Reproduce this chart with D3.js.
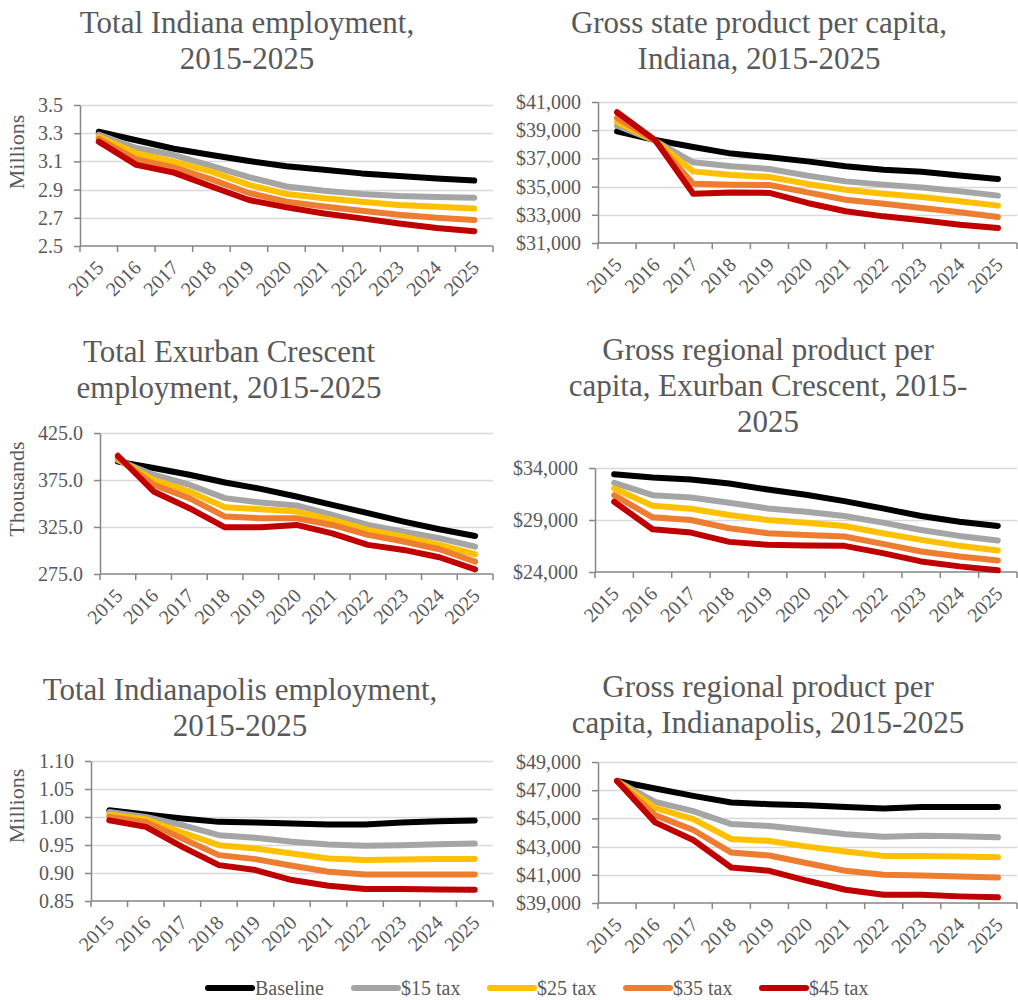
<!DOCTYPE html>
<html>
<head>
<meta charset="utf-8">
<script src="https://cdn.jsdelivr.net/npm/d3@7"></script>
<style>
  html, body { margin: 0; padding: 0; background: #fff; }
  svg { display: block; }
</style>
</head>
<body>
<svg id="chart" width="1018" height="1000"></svg>
<script>
// Years on the category axis
const years = ["2015","2016","2017","2018","2019","2020","2021","2022","2023","2024","2025"];

// Scenarios and their colours
const scenarios = ["Baseline", "$15 tax", "$25 tax", "$35 tax", "$45 tax"];
const scenarioColors = ["#000000", "#a5a5a5", "#ffc000", "#ed7d31", "#c00000"];

// Total Indiana employment (millions), one row per scenario
const indianaEmployment = [
  [3.31, 3.25, 3.19, 3.145, 3.103, 3.065, 3.04, 3.015, 2.996, 2.978, 2.964],
  [3.29, 3.195, 3.145, 3.068, 2.988, 2.922, 2.892, 2.869, 2.855, 2.848, 2.843],
  [3.275, 3.158, 3.098, 3.027, 2.933, 2.869, 2.838, 2.814, 2.79, 2.778, 2.766],
  [3.26, 3.115, 3.058, 2.973, 2.876, 2.814, 2.78, 2.75, 2.722, 2.7, 2.684],
  [3.24, 3.075, 3.02, 2.922, 2.826, 2.774, 2.73, 2.696, 2.66, 2.628, 2.605]
];
const indianaEmploymentTicks = [2.5, 2.7, 2.9, 3.1, 3.3, 3.5];

// Gross state product per capita, Indiana (dollars)
const indianaGspPerCapita = [
  [38920, 38300, 37810, 37340, 37080, 36790, 36440, 36200, 36060, 35780, 35540],
  [39320, 38250, 36720, 36440, 36250, 35780, 35370, 35140, 34930, 34670, 34360],
  [39580, 38250, 36080, 35820, 35680, 35190, 34780, 34500, 34260, 33960, 33650],
  [39870, 38250, 35210, 35140, 35110, 34590, 34070, 33790, 33480, 33180, 32840],
  [40270, 38300, 34500, 34590, 34550, 33840, 33250, 32890, 32610, 32300, 32060]
];
const indianaGspTicks = [31000, 33000, 35000, 37000, 39000, 41000];

// Total Exurban Crescent employment (thousands)
const exurbanEmployment = [
  [394.5, 387.7, 380.6, 372.4, 365.6, 357.5, 348.6, 339.7, 330.8, 322.6, 315.5],
  [396.0, 380.6, 370.0, 355.7, 351.0, 347.9, 337.9, 327.2, 320.1, 313.0, 304.1],
  [397.0, 375.2, 362.8, 346.0, 343.9, 341.5, 332.6, 321.9, 314.8, 305.9, 296.0],
  [398.5, 370.0, 355.7, 336.1, 334.3, 334.3, 327.2, 316.6, 309.5, 301.3, 288.1],
  [400.8, 362.8, 345.0, 324.7, 324.7, 327.2, 318.3, 306.0, 300.6, 292.8, 280.0]
];
const exurbanEmploymentTicks = [275, 325, 375, 425];

// Gross regional product per capita, Exurban Crescent (dollars)
const exurbanGrpPerCapita = [
  [33395, 33076, 32885, 32503, 31930, 31420, 30815, 30114, 29382, 28840, 28426],
  [32567, 31388, 31165, 30656, 30114, 29796, 29382, 28745, 28044, 27471, 27025],
  [32025, 30369, 30083, 29477, 29000, 28745, 28426, 27726, 27089, 26515, 26069],
  [31388, 29254, 29000, 28203, 27726, 27567, 27407, 26706, 25974, 25496, 25114],
  [30751, 28108, 27789, 26897, 26611, 26547, 26515, 25815, 25018, 24540, 24158]
];
const exurbanGrpTicks = [24000, 29000, 34000];

// Total Indianapolis employment (millions)
const indianapolisEmployment = [
  [1.012, 1.0044, 0.9972, 0.9913, 0.9901, 0.9883, 0.9866, 0.9866, 0.9901, 0.9925, 0.9937],
  [1.009, 1.0002, 0.9854, 0.9675, 0.9628, 0.9557, 0.9509, 0.9485, 0.9497, 0.9515, 0.9527],
  [1.004, 0.996, 0.9723, 0.9497, 0.9438, 0.9349, 0.926, 0.923, 0.9242, 0.9248, 0.9248],
  [1.0002, 0.9913, 0.9616, 0.9319, 0.9248, 0.913, 0.9022, 0.8975, 0.8975, 0.8975, 0.8975],
  [0.994, 0.9824, 0.9467, 0.9141, 0.9052, 0.8874, 0.8773, 0.8713, 0.8713, 0.8707, 0.8701]
];
const indianapolisEmploymentTicks = [0.85, 0.90, 0.95, 1.00, 1.05, 1.10];

// Gross regional product per capita, Indianapolis (dollars)
const indianapolisGrpPerCapita = [
  [47650, 47118, 46600, 46129, 46012, 45941, 45800, 45706, 45800, 45800, 45800],
  [47650, 46176, 45518, 44600, 44459, 44176, 43871, 43706, 43776, 43729, 43659],
  [47650, 45753, 44953, 43541, 43400, 43000, 42647, 42341, 42341, 42294, 42247],
  [47650, 45235, 44176, 42576, 42365, 41823, 41282, 41000, 40953, 40882, 40812],
  [47650, 44718, 43470, 41517, 41282, 40576, 39941, 39588, 39588, 39470, 39400]
];
const indianapolisGrpTicks = [39000, 41000, 43000, 45000, 47000, 49000];

// ---------------------------------------------------------------------------
const FONT = "'Liberation Serif', 'Times New Roman', serif";
const TEXT_COLOR = "#595959";
const AXIS_COLOR = "#868686";
const GRID_COLOR = "#d9d9d9";

const fmtDollar = v => "$" + d3.format(",")(v);

const panels = [
  { data: indianaEmployment, ticks: indianaEmploymentTicks, fmt: d3.format(".1f"),
    x0: 80, x1: 493, yTop: 105, yBot: 246,
    title: ["Total Indiana employment,", "2015-2025"], titleX: 247, titleY: [33, 69],
    yLabel: "Millions", yLabelX: 17, yLabelY: 152 },
  { data: indianaGspPerCapita, ticks: indianaGspTicks, fmt: fmtDollar,
    x0: 598, x1: 1017, yTop: 102, yBot: 243,
    title: ["Gross state product per capita,", "Indiana, 2015-2025"], titleX: 759, titleY: [33, 69] },
  { data: exurbanEmployment, ticks: exurbanEmploymentTicks, fmt: d3.format(".1f"),
    x0: 100, x1: 493, yTop: 433, yBot: 574,
    title: ["Total Exurban Crescent", "employment, 2015-2025"], titleX: 229, titleY: [362, 398],
    yLabel: "Thousands", yLabelX: 17, yLabelY: 489 },
  { data: exurbanGrpPerCapita, ticks: exurbanGrpTicks, fmt: fmtDollar,
    x0: 595, x1: 1017, yTop: 468, yBot: 572,
    title: ["Gross regional product per", "capita, Exurban Crescent, 2015-", "2025"], titleX: 768, titleY: [360, 396, 432] },
  { data: indianapolisEmployment, ticks: indianapolisEmploymentTicks, fmt: d3.format(".2f"),
    x0: 91, x1: 493, yTop: 761, yBot: 901,
    title: ["Total Indianapolis employment,", "2015-2025"], titleX: 240, titleY: [700, 736],
    yLabel: "Millions", yLabelX: 17, yLabelY: 806 },
  { data: indianapolisGrpPerCapita, ticks: indianapolisGrpTicks, fmt: fmtDollar,
    x0: 598, x1: 1017, yTop: 762, yBot: 903,
    title: ["Gross regional product per", "capita, Indianapolis, 2015-2025"], titleX: 768, titleY: [697, 733] }
];

const svg = d3.select("#chart");

panels.forEach(p => {
  const g = svg.append("g");

  const x = d3.scaleBand().domain(years).range([p.x0, p.x1]).padding(0);
  const y = d3.scaleLinear().domain([p.ticks[0], p.ticks[p.ticks.length - 1]]).range([p.yBot, p.yTop]);

  // Title
  const title = g.append("text")
    .attr("text-anchor", "middle")
    .attr("font-family", FONT)
    .attr("font-size", 31)
    .attr("fill", TEXT_COLOR);
  p.title.forEach((line, i) => {
    title.append("tspan").attr("x", p.titleX).attr("y", p.titleY[i]).text(line);
  });

  // Horizontal gridlines
  g.append("g")
    .selectAll("line")
    .data(p.ticks.slice(1))
    .join("line")
    .attr("x1", p.x0).attr("x2", p.x1)
    .attr("y1", d => Math.round(y(d)) + 0.5).attr("y2", d => Math.round(y(d)) + 0.5)
    .attr("stroke", GRID_COLOR)
    .attr("stroke-width", 1.3);

  // Y axis
  const yAxis = g.append("g")
    .attr("transform", `translate(${p.x0},0)`)
    .call(d3.axisLeft(y).tickValues(p.ticks).tickFormat(p.fmt).tickSize(6).tickSizeOuter(0).tickPadding(11));
  yAxis.select(".domain").attr("stroke", AXIS_COLOR).attr("stroke-width", 1.5);
  yAxis.selectAll(".tick line").attr("stroke", AXIS_COLOR).attr("stroke-width", 1.5);
  yAxis.selectAll(".tick text")
    .attr("font-family", FONT).attr("font-size", 20).attr("fill", TEXT_COLOR);

  // X axis line and category boundary ticks
  const xg = g.append("g");
  xg.append("line")
    .attr("x1", p.x0).attr("x2", p.x1)
    .attr("y1", p.yBot).attr("y2", p.yBot)
    .attr("stroke", AXIS_COLOR).attr("stroke-width", 1.5);
  const bounds = years.map(d => x(d)).concat([p.x1]);
  xg.selectAll("line.tick")
    .data(bounds)
    .join("line")
    .attr("class", "tick")
    .attr("x1", d => d).attr("x2", d => d)
    .attr("y1", p.yBot).attr("y2", p.yBot + 6)
    .attr("stroke", AXIS_COLOR).attr("stroke-width", 1.5);

  // Rotated year labels
  xg.selectAll("text")
    .data(years)
    .join("text")
    .attr("transform", d => `translate(${x(d) + x.bandwidth() / 2 + 6},${p.yBot + 23}) rotate(-45)`)
    .attr("text-anchor", "end")
    .attr("font-family", FONT)
    .attr("font-size", 20)
    .attr("fill", TEXT_COLOR)
    .text(d => d);

  // Y axis title
  if (p.yLabel) {
    g.append("text")
      .attr("transform", `translate(${p.yLabelX + 7},${p.yLabelY}) rotate(-90)`)
      .attr("text-anchor", "middle")
      .attr("font-family", FONT)
      .attr("font-size", 22)
      .attr("fill", TEXT_COLOR)
      .text(p.yLabel);
  }

  // Series lines
  const line = d3.line()
    .x((d, i) => x(years[i]) + x.bandwidth() / 2)
    .y(d => y(d));
  g.append("g")
    .selectAll("path")
    .data(p.data)
    .join("path")
    .attr("d", line)
    .attr("fill", "none")
    .attr("stroke", (d, i) => scenarioColors[i])
    .attr("stroke-width", 6)
    .attr("stroke-linecap", "round")
    .attr("stroke-linejoin", "round");
});

// Legend
const legendX = [205, 351, 487, 623, 759];
const legend = svg.append("g").attr("transform", "translate(0,988)");
const items = legend.selectAll("g")
  .data(scenarios)
  .join("g")
  .attr("transform", (d, i) => `translate(${legendX[i]},0)`);
items.append("line")
  .attr("x1", 3).attr("x2", 47)
  .attr("y1", 0).attr("y2", 0)
  .attr("stroke", (d, i) => scenarioColors[i])
  .attr("stroke-width", 6)
  .attr("stroke-linecap", "round");
items.append("text")
  .attr("x", 50)
  .attr("y", 7)
  .attr("font-family", FONT)
  .attr("font-size", 20)
  .attr("fill", TEXT_COLOR)
  .text(d => d);
</script>
</body>
</html>
